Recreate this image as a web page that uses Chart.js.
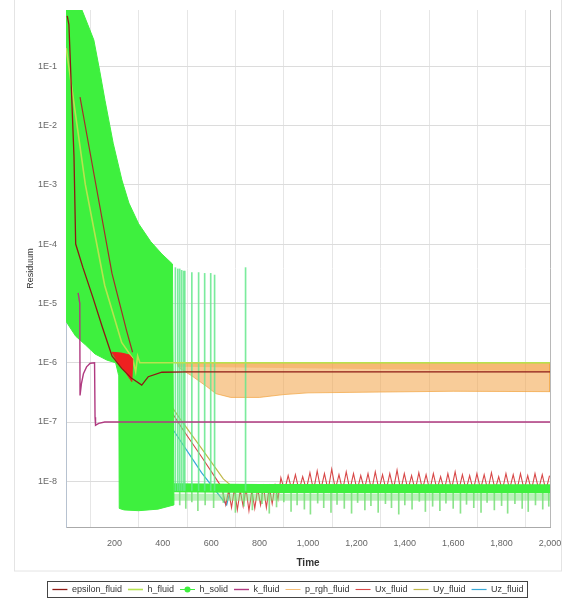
<!DOCTYPE html>
<html>
<head>
<meta charset="utf-8">
<script src="https://cdn.jsdelivr.net/npm/chart.js"></script>
<style>
  html, body { margin: 0; padding: 0; background: #fff; }
  canvas { display: block; }
</style>
</head>
<body>
<canvas id="chart" width="567" height="604"></canvas>
<script>
// axis ticks
const xTicks = [200, 400, 600, 800, 1000, 1200, 1400, 1600, 1800, 2000];
const xTickLabels = ['200', '400', '600', '800', '1,000', '1,200', '1,400', '1,600', '1,800', '2,000'];
const yTicks = [1e-8, 1e-7, 1e-6, 1e-5, 1e-4, 1e-3, 1e-2, 1e-1];
const yTickLabels = ['1E-8', '1E-7', '1E-6', '1E-5', '1E-4', '1E-3', '1E-2', '1E-1'];

// epsilon_fluid
const epsT = [5, 12, 33, 40, 70, 110, 150, 190, 230, 270, 313, 340, 396, 500, 2000];
const epsV = [0.7, 0.5, 3e-3, 1e-4, 4e-5, 1.3e-5, 4e-6, 1.3e-6, 8e-7, 5.5e-7, 4.2e-7, 5.8e-7, 6.9e-7, 7e-7, 7e-7];

// h_fluid
const hfT = [1, 80, 160, 230, 275, 288, 296, 305, 2000];
const hfV = [0.2, 1e-3, 2e-5, 2.2e-6, 1.2e-6, 7e-7, 1.3e-6, 1e-6, 1e-6];

// h_solid: outline of the dense oscillation (upper edge, then lower edge back)
const hsT = [0, 66, 90, 115, 140, 161, 195, 231, 260, 300, 350, 396, 440, 446,
             380, 300, 240, 220, 218, 205, 170, 120, 80, 40, 15, 0];
const hsV = [0.88, 0.88, 0.5, 0.275, 0.08, 0.0266, 5e-3, 1.2e-3, 4.9e-4, 2.2e-4, 1.1e-4, 6.8e-5, 4.6e-5, 4e-9,
             3.4e-9, 3.2e-9, 3.3e-9, 3.5e-9, 6e-7, 1e-6, 1.1e-6, 1.4e-6, 2e-6, 2.8e-6, 4e-6, 5e-6];
// h_solid settled band and its spikes
const bandT = [446, 800, 2000];
const bandV = [7.8e-9, 7.6e-9, 7.5e-9];
const stripV = [5.4e-9, 5.4e-9, 5.4e-9];
const tallSpikeT = [452, 462, 470, 478, 486, 491, 520, 548, 573, 598, 614, 742];
const tallSpikeTop = [4e-5, 3.8e-5, 3.8e-5, 3.6e-5, 3.5e-5, 3.5e-5, 3.3e-5, 3.3e-5, 3.2e-5, 3.2e-5, 3e-5, 4e-5];
const lowSpikeT = [470, 495, 520, 545, 575, 610, 650, 700, 735, 770,
                   810, 840, 870, 900, 930, 955, 985, 1010, 1040, 1065,
                   1095, 1120, 1150, 1180, 1205, 1235, 1260, 1290, 1320, 1345,
                   1375, 1400, 1430, 1460, 1485, 1515, 1545, 1570, 1600, 1630,
                   1655, 1685, 1715, 1740, 1770, 1800, 1825, 1855, 1885, 1910,
                   1940, 1970, 1995];
const lowSpikeLow = [4e-9, 3.5e-9, 4.5e-9, 3.2e-9, 4e-9, 3.6e-9, 4.4e-9, 3e-9, 3.8e-9, 3.3e-9,
                     4.2e-9, 2.9e-9, 3.7e-9, 4.5e-9, 3.1e-9, 4e-9, 3.4e-9, 2.8e-9, 4.3e-9, 3.6e-9,
                     3e-9, 4.1e-9, 3.5e-9, 2.9e-9, 4.4e-9, 3.3e-9, 3.9e-9, 3e-9, 4.2e-9, 3.6e-9,
                     2.8e-9, 4e-9, 3.4e-9, 4.6e-9, 3.1e-9, 3.8e-9, 3.2e-9, 4.3e-9, 3.5e-9, 2.9e-9,
                     4.1e-9, 3.6e-9, 3e-9, 4.4e-9, 3.3e-9, 3.9e-9, 2.9e-9, 4.2e-9, 3.5e-9, 3.1e-9,
                     4e-9, 3.4e-9, 3.8e-9];
const spikeBase = 7e-9;

// k_fluid
const kT = [50, 57, 58, 64, 72, 85, 100, 118, 120, 122, 135, 160, 2000];
const kV = [1.5e-5, 1e-5, 2.8e-7, 4.5e-7, 6.5e-7, 8.5e-7, 9.8e-7, 1e-6, 1.2e-7, 8.8e-8, 9.5e-8, 1e-7, 1e-7];

// p_rgh_fluid: outline of the oscillation band, and its denser upper strip
const prT = [458, 2000, 2000, 1600, 1300, 1000, 900, 800, 680, 620, 580, 520, 470, 458];
const prV = [9.8e-7, 9.8e-7, 3.25e-7, 3.3e-7, 3.2e-7, 3.1e-7, 2.9e-7, 2.6e-7, 2.6e-7, 3e-7, 4e-7, 6e-7, 8e-7, 9.8e-7];
const prStripT = [458, 2000, 2000, 458];
const prStripV = [9.8e-7, 9.8e-7, 7.2e-7, 8.5e-7];

// Ux_fluid
const uxT = [1, 20, 58, 120, 190, 250, 275, 290, 330, 400, 478, 560, 643,
  660, 672, 684, 696, 708, 720, 732, 744, 756, 768, 780, 792, 804, 816, 828, 840, 852, 864, 876,
  888, 903, 918, 933, 948, 963, 978, 993, 1008, 1023, 1038, 1053, 1068, 1083, 1098, 1113, 1128, 1143,
  1158, 1173, 1188, 1203, 1218, 1233, 1248, 1263, 1278, 1293, 1308, 1323, 1338, 1353, 1368, 1383,
  1398, 1413, 1428, 1443, 1458, 1473, 1488, 1503, 1518, 1533, 1548, 1563, 1578, 1593, 1608, 1623,
  1638, 1653, 1668, 1683, 1698, 1713, 1728, 1743, 1758, 1773, 1788, 1803, 1818, 1833, 1848, 1863,
  1878, 1893, 1908, 1923, 1938, 1953, 1968, 1983, 1998];
const uxV = [0.35, 0.12, 0.03, 1.2e-3, 3.2e-5, 3.5e-6, 1.5e-6, 1.1e-6, 6.5e-7, 2.5e-7, 8e-8, 2.6e-8, 8e-9,
  4e-9, 7e-9, 3.6e-9, 7.5e-9, 3.3e-9, 7e-9, 3.8e-9, 7.5e-9, 3.2e-9, 7e-9, 3.5e-9, 7.5e-9, 4e-9, 8e-9, 3.6e-9, 8e-9, 4.2e-9, 8.5e-9, 5e-9,
  1.15e-8, 7e-9, 1.25e-8, 7.2e-9, 1.3e-8, 7e-9, 1.2e-8, 7.3e-9, 1.4e-8, 7e-9, 1.5e-8, 7.2e-9, 1.35e-8, 7e-9, 1.6e-8, 7.3e-9, 1.3e-8, 7e-9,
  1.45e-8, 7.2e-9, 1.35e-8, 7e-9, 1.25e-8, 7.3e-9, 1.35e-8, 7e-9, 1.45e-8, 7.2e-9, 1.3e-8, 7e-9, 1.35e-8, 7.3e-9, 1.55e-8, 7e-9,
  1.35e-8, 7.2e-9, 1.25e-8, 7e-9, 1.4e-8, 7.3e-9, 1.3e-8, 7e-9, 1.35e-8, 7.2e-9, 1.2e-8, 7e-9, 1.35e-8, 7.3e-9, 1.45e-8, 7e-9,
  1.3e-8, 7.2e-9, 1.25e-8, 7e-9, 1.35e-8, 7.3e-9, 1.3e-8, 7e-9, 1.4e-8, 7.2e-9, 1.2e-8, 7e-9, 1.35e-8, 7.3e-9, 1.3e-8, 7e-9,
  1.35e-8, 7.2e-9, 1.25e-8, 7e-9, 1.35e-8, 7.3e-9, 1.3e-8, 7e-9, 1.25e-8];

// Uy_fluid
const uyT = [1, 100, 200, 280, 320, 470, 560, 650, 700, 2000];
const uyV = [0.5, 1e-3, 2e-5, 2e-6, 9e-7, 1.15e-7, 3.6e-8, 1.1e-8, 7.4e-9, 7.4e-9];

// Uz_fluid
const uzT = [1, 100, 200, 300, 437, 560, 664, 680, 2000];
const uzV = [0.05, 1e-4, 5e-6, 7e-7, 8e-8, 1.4e-8, 4e-9, 7.5e-9, 7.5e-9];

// red oscillation burst around t = 200..280
const blobT = [190, 230, 262, 276, 272, 245, 215, 190];
const blobV = [1.5e-6, 1.45e-6, 1.35e-6, 1.15e-6, 4.8e-7, 7e-7, 1e-6, 1.5e-6];

const FONT = "'Liberation Sans Narrow', 'Liberation Sans', Arial, sans-serif";
const GREEN = '#3ef03e';

function pts(T, V) {
  return T.map((t, i) => ({ x: t, y: V[i] }));
}

function line(label, T, V, color, width, order, extra) {
  return {
    label: label, data: pts(T, V), borderColor: color, backgroundColor: color,
    borderWidth: width, pointRadius: 0, pointStyle: 'line', tension: 0,
    fill: false, order: order, extra: !!extra
  };
}

function shape(label, T, V, fillColor, lineColor, order, extra) {
  return {
    label: label, data: pts(T, V), borderColor: lineColor, backgroundColor: fillColor,
    borderWidth: 1, pointRadius: 0, pointStyle: 'line', fill: 'shape', tension: 0,
    order: order, extra: !!extra
  };
}

// legend marker for h_solid: short line with a dot
const hsMark = document.createElement('canvas');
hsMark.width = 15;
hsMark.height = 7;
(function () {
  const c = hsMark.getContext('2d');
  c.strokeStyle = GREEN;
  c.fillStyle = GREEN;
  c.lineWidth = 1;
  c.beginPath(); c.moveTo(0, 3.5); c.lineTo(15, 3.5); c.stroke();
  c.beginPath(); c.arc(7.5, 3.5, 3, 0, Math.PI * 2); c.fill();
})();

const hSolid = shape('h_solid', hsT, hsV, GREEN, GREEN, 6);
hSolid.pointStyle = hsMark;

const datasets = [
  line('epsilon_fluid', epsT, epsV, '#8e1a14', 1.3, 1),
  line('h_fluid', hfT, hfV, '#b6e34f', 1.6, 3),
  hSolid,
  line('k_fluid', kT, kV, '#b03a80', 1.4, 3),
  shape('p_rgh_fluid', prT, prV, 'rgba(243,163,70,0.55)', 'rgba(242,162,60,0.7)', 10),
  line('Ux_fluid', uxT, uxV, '#d84848', 1.1, 8),
  line('Uy_fluid', uyT, uyV, '#c0b84a', 1.2, 8),
  line('Uz_fluid', uzT, uzV, '#38a8d8', 1.2, 8),
  // extras (not in legend)
  line('', uxT.slice(2, 7), uxV.slice(2, 7), '#a3302a', 1.2, 1, true),
  shape('', blobT, blobV, '#ee2020', '#ee2020', 2, true),
  shape('', prStripT, prStripV, 'rgba(243,150,50,0.35)', 'rgba(243,150,50,0)', 9, true),
  line('', bandT, bandV, GREEN, 9, 6, true),
  line('', bandT, stripV, 'rgba(120,228,120,0.5)', 7, 7, true),
  {
    type: 'bar', label: '', extra: true, order: 5, grouped: false, barThickness: 1,
    backgroundColor: 'rgba(100,232,140,0.85)',
    data: tallSpikeT.map((t, i) => ({ x: t, y: [spikeBase, tallSpikeTop[i]] }))
  },
  {
    type: 'bar', label: '', extra: true, order: 7, grouped: false, barThickness: 1,
    backgroundColor: 'rgba(110,220,110,0.8)',
    data: lowSpikeT.map((t, i) => ({ x: t, y: [lowSpikeLow[i], spikeBase] }))
  }
];

const LEGEND_SHIFT = 6;

const framePlugin = {
  id: 'frame',
  afterLayout(chart) {
    const lg = chart.legend;
    lg.left += LEGEND_SHIFT;
    lg.right += LEGEND_SHIFT;
    (lg.legendHitBoxes || []).forEach(b => { b.left += LEGEND_SHIFT; });
  },
  beforeDraw(chart) {
    const ctx = chart.ctx;
    ctx.save();
    ctx.strokeStyle = '#e4e4e4';
    ctx.lineWidth = 1;
    ctx.strokeRect(14.5, -1, chart.width - 20, 572);
    ctx.restore();
  },
  afterDraw(chart) {
    const { ctx, chartArea: a, legend } = chart;
    ctx.save();
    ctx.strokeStyle = '#b8b8b8';
    ctx.lineWidth = 1;
    ctx.beginPath();
    ctx.moveTo(Math.round(a.right) + 0.5, a.top);
    ctx.lineTo(Math.round(a.right) + 0.5, a.bottom);
    ctx.stroke();
    const boxes = legend.legendHitBoxes;
    if (boxes && boxes.length) {
      const l = Math.min(...boxes.map(b => b.left));
      const r = Math.max(...boxes.map(b => b.left + b.width));
      const t = Math.min(...boxes.map(b => b.top));
      const bt = Math.max(...boxes.map(b => b.top + b.height));
      ctx.strokeStyle = '#444';
      ctx.strokeRect(Math.round(l) - 4.5, Math.round(t) - 3.5, Math.round(r - l) + 9, Math.round(bt - t) + 7);
    }
    ctx.restore();
  }
};

new Chart(document.getElementById('chart'), {
  type: 'line',
  data: { datasets: datasets },
  plugins: [framePlugin],
  options: {
    responsive: false,
    animation: false,
    events: [],
    layout: { padding: { left: 14, right: 17, top: 10, bottom: 0 } },
    scales: {
      x: {
        type: 'linear', min: 0, max: 2000, offset: false,
        afterFit(s) { s.height = 52; s.paddingLeft = 0; s.paddingRight = 0; },
        afterBuildTicks(s) { s.ticks = xTicks.map(v => ({ value: v })); },
        ticks: {
          autoSkip: false, maxRotation: 0, padding: 11, color: '#666',
          font: { family: FONT, size: 9 },
          callback: (v, i) => xTickLabels[i]
        },
        grid: { color: '#e6e6e6', drawTicks: false },
        border: { color: '#aaaaaa' },
        title: {
          display: true, text: 'Time', color: '#333',
          font: { family: FONT, size: 10, weight: 'bold' }, padding: { top: 0, bottom: 10 }
        }
      },
      y: {
        type: 'logarithmic', min: 1.7e-9, max: 0.88,
        afterFit(s) { s.width = 52; s.paddingTop = 0; s.paddingBottom = 0; },
        afterBuildTicks(s) { s.ticks = yTicks.map(v => ({ value: v })); },
        ticks: {
          autoSkip: false, padding: 9, color: '#666',
          font: { family: FONT, size: 9 },
          callback: (v, i) => yTickLabels[i]
        },
        grid: { color: '#dcdcdc', drawTicks: false },
        border: { color: '#b7c2d0' },
        title: {
          display: true, text: 'Residuum', color: '#333',
          font: { family: FONT, size: 9 }, padding: { top: 11, bottom: 0 }
        }
      }
    },
    plugins: {
      tooltip: { enabled: false },
      legend: {
        position: 'bottom',
        labels: {
          usePointStyle: true, pointStyleWidth: 15, boxHeight: 6, padding: 6,
          color: '#333', font: { family: FONT, size: 9 },
          filter: (item, data) => !data.datasets[item.datasetIndex].extra,
          sort: (a, b) => a.datasetIndex - b.datasetIndex
        }
      }
    }
  }
});
</script>
</body>
</html>
